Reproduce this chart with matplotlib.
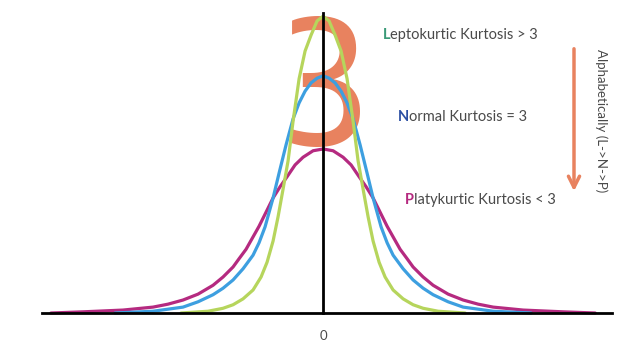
import matplotlib
matplotlib.use("Agg")
import matplotlib.pyplot as plt

# ---- data (x in sd-like units, y in density-like units)
lepto_x = [-3.227, -2.614, -2.273, -2.045, -1.818, -1.591, -1.409, -1.273, -1.136, -1.023, -0.909, -0.795,
           -0.682, -0.545, -0.409, -0.273, -0.136, 0.0, 0.136, 0.273, 0.409, 0.545, 0.682, 0.795, 0.909,
           1.023, 1.136, 1.273, 1.409, 1.591, 1.818, 2.045, 2.273, 2.614, 3.227]
lepto_y = [0.0, 0.003, 0.008, 0.014, 0.024, 0.039, 0.061, 0.086, 0.122, 0.163, 0.210, 0.258,
           0.325, 0.397, 0.444, 0.471, 0.495, 0.503, 0.495, 0.471, 0.444, 0.397, 0.325, 0.258, 0.210,
           0.163, 0.122, 0.086, 0.061, 0.039, 0.024, 0.014, 0.008, 0.003, 0.0]

normal_x = [-4.727, -3.864, -3.182, -2.841, -2.5, -2.273, -2.045, -1.818, -1.591, -1.455, -1.318, -1.136,
            -1.0, -0.841, -0.682, -0.545, -0.409, -0.273, -0.136, 0.0, 0.136, 0.273, 0.409, 0.545, 0.682,
            0.841, 1.0, 1.136, 1.318, 1.455, 1.591, 1.818, 2.045, 2.273, 2.5, 2.841, 3.182, 3.864, 4.727]
normal_y = [0.0, 0.003, 0.010, 0.019, 0.031, 0.042, 0.056, 0.075, 0.098, 0.119, 0.146, 0.195,
            0.237, 0.285, 0.329, 0.356, 0.376, 0.390, 0.398, 0.402, 0.398, 0.390, 0.376, 0.356, 0.329,
            0.285, 0.237, 0.195, 0.146, 0.119, 0.098, 0.075, 0.056, 0.042, 0.031, 0.019, 0.010, 0.003, 0.0]

platy_x = [-6.182, -5.455, -4.545, -3.864, -3.523, -3.182, -2.841, -2.5, -2.273, -2.045, -1.909, -1.75,
           -1.591, -1.455, -1.295, -1.136, -0.977, -0.818, -0.636, -0.455, -0.227, 0.0, 0.227, 0.455,
           0.636, 0.818, 0.977, 1.136, 1.295, 1.455, 1.591, 1.75, 1.909, 2.045, 2.273, 2.5, 2.841,
           3.182, 3.523, 3.864, 4.545, 5.455, 6.182]
platy_y = [0.0, 0.002, 0.005, 0.010, 0.015, 0.022, 0.032, 0.047, 0.061, 0.078, 0.092, 0.108,
           0.129, 0.147, 0.171, 0.195, 0.214, 0.231, 0.251, 0.264, 0.275, 0.278, 0.275, 0.264,
           0.251, 0.231, 0.214, 0.195, 0.171, 0.147, 0.129, 0.108, 0.092, 0.078, 0.061, 0.047, 0.032,
           0.022, 0.015, 0.010, 0.005, 0.002, 0.0]

labels = [("L", "eptokurtic Kurtosis > 3"),
          ("N", "ormal Kurtosis = 3"),
          ("P", "latykurtic Kurtosis < 3")]
side_label = "Alphabetically (L->N->P)"
zero_label = "0"
big_digit = "3"

GREEN = "#b6d55c"
BLUE = "#3d9fe0"
MAGENTA = "#b52a80"
ORANGE = "#e8825f"
GRAY = "#4a4a4a"
letter_colors = ["#3a9a78", "#2b4fa3", "#b52a80"]

W, H = 640, 349
fig = plt.figure(figsize=(W / 100, H / 100), dpi=100)
ax = fig.add_axes([0, 0, 1, 1])
ax.set_xlim(-7.34, 7.20)
ax.set_ylim(-0.061, 0.5305)
ax.axis("off")

def fx(px):
    return px / W

def fy(py):
    return 1 - py / H

# big orange 3 behind curves
ax.text(fx(326), fy(145), big_digit, transform=ax.transAxes, ha="center", va="baseline",
        fontsize=124, color=ORANGE, family=["Encode Sans Compressed", "Encode Sans Condensed", "DejaVu Sans"],
        fontweight="medium", zorder=1)

# baseline and vertical axis
ax.axhline(0, xmin=fx(42), xmax=fx(612), color="black", lw=2.0, zorder=5)
ax.axvline(0, ymin=36 / H, ymax=fy(13), color="black", lw=2.0, zorder=5)

ax.plot(platy_x, platy_y, color=MAGENTA, lw=2.3, zorder=3, solid_capstyle="round", solid_joinstyle="round")
ax.plot(normal_x, normal_y, color=BLUE, lw=2.3, zorder=3, solid_capstyle="round", solid_joinstyle="round")
ax.plot(lepto_x, lepto_y, color=GREEN, lw=2.3, zorder=4, solid_capstyle="round", solid_joinstyle="round")

# labels with coloured first letter
pos = [(383, 35), (398, 117), (405, 200)]
font = "Lato"
for (first, rest), (px, py), c in zip(labels, pos, letter_colors):
    t = ax.text(fx(px), fy(py), first, transform=ax.transAxes, ha="left", va="center",
                fontsize=10.5, color=c, family=font, fontweight="bold")
    ax.annotate(rest, xy=(1, 0), xycoords=t, ha="left", va="bottom",
                fontsize=10.5, color=GRAY, family=font)

# orange arrow
ax.annotate("", xy=(574, H - 194), xytext=(574, H - 46), xycoords="figure pixels",
            textcoords="figure pixels",
            arrowprops=dict(arrowstyle="->", color=ORANGE, lw=2.5, mutation_scale=20))

ax.text(fx(601), fy(121), side_label, transform=ax.transAxes, rotation=270,
        ha="center", va="center", fontsize=9.5, color=GRAY, family=font)

ax.text(fx(323), fy(336), zero_label, transform=ax.transAxes, ha="center", va="center",
        fontsize=9.5, color=GRAY, family=font)

fig.savefig("out.png", dpi=100)
